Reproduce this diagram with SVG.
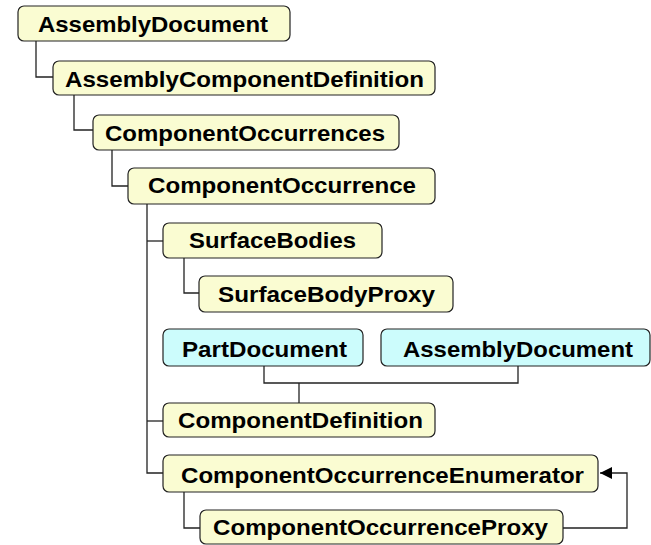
<svg xmlns="http://www.w3.org/2000/svg" width="651" height="545" viewBox="0 0 651 545">
<defs>
<style>
.b{fill:#fafcd2;stroke:#222;stroke-width:1.2}
.c{fill:#ccfcfc;stroke:#222;stroke-width:1.2}
.t{font-family:"Liberation Sans",Arial,sans-serif;font-weight:bold;font-size:22px;fill:#000}
.l{fill:none;stroke:#222;stroke-width:1.3}
</style>
<marker id="ah" viewBox="0 0 10 10" refX="10" refY="5" markerWidth="17" markerHeight="12" markerUnits="userSpaceOnUse" orient="auto">
<path d="M0,0L10,5L0,10z" fill="#000"/>
</marker>
</defs>
<rect width="651" height="545" fill="#fff"/>
<g id="connectors">
<path class="l" d="M36,41V77H53"/>
<path class="l" d="M74,95V130H93"/>
<path class="l" d="M112,150V186H128"/>
<path class="l" d="M147,204V473H163"/>
<path class="l" d="M147,241H163"/>
<path class="l" d="M184,258V293H199"/>
<path class="l" d="M147,421H163"/>
<path class="l" d="M264,366V383H518V366"/>
<path class="l" d="M299,383V403"/>
<path class="l" d="M184,492V528H200"/>
<path class="l" d="M563,528H627V473H600" marker-end="url(#ah)"/>
</g>
<g id="n1"><rect class="b" x="18" y="6" width="272" height="35" rx="6"/><text class="t" x="38" y="32" textLength="230" lengthAdjust="spacingAndGlyphs">AssemblyDocument</text></g>
<g id="n2"><rect class="b" x="53" y="61" width="382" height="34" rx="6"/><text class="t" x="65" y="87" textLength="359" lengthAdjust="spacingAndGlyphs">AssemblyComponentDefinition</text></g>
<g id="n3"><rect class="b" x="93" y="115" width="306" height="35" rx="6"/><text class="t" x="105" y="141" textLength="280" lengthAdjust="spacingAndGlyphs">ComponentOccurrences</text></g>
<g id="n4"><rect class="b" x="128" y="168" width="307" height="36" rx="6"/><text class="t" x="148" y="193" textLength="268" lengthAdjust="spacingAndGlyphs">ComponentOccurrence</text></g>
<g id="n5"><rect class="b" x="163" y="223" width="219" height="35" rx="6"/><text class="t" x="189" y="248" textLength="167" lengthAdjust="spacingAndGlyphs">SurfaceBodies</text></g>
<g id="n6"><rect class="b" x="199" y="276" width="254" height="36" rx="6"/><text class="t" x="218" y="302" textLength="217" lengthAdjust="spacingAndGlyphs">SurfaceBodyProxy</text></g>
<g id="n7"><rect class="c" x="163" y="329" width="200" height="37" rx="6"/><text class="t" x="182" y="357" textLength="165" lengthAdjust="spacingAndGlyphs">PartDocument</text></g>
<g id="n8"><rect class="c" x="381" y="329" width="269" height="37" rx="6"/><text class="t" x="403" y="357" textLength="230" lengthAdjust="spacingAndGlyphs">AssemblyDocument</text></g>
<g id="n9"><rect class="b" x="163" y="403" width="272" height="34" rx="6"/><text class="t" x="178" y="428" textLength="245" lengthAdjust="spacingAndGlyphs">ComponentDefinition</text></g>
<g id="n10"><rect class="b" x="163" y="455" width="435" height="37" rx="6"/><text class="t" x="181" y="483" textLength="403" lengthAdjust="spacingAndGlyphs">ComponentOccurrenceEnumerator</text></g>
<g id="n11"><rect class="b" x="200" y="510" width="363" height="34" rx="6"/><text class="t" x="213" y="535" textLength="335" lengthAdjust="spacingAndGlyphs">ComponentOccurrenceProxy</text></g>
</svg>
